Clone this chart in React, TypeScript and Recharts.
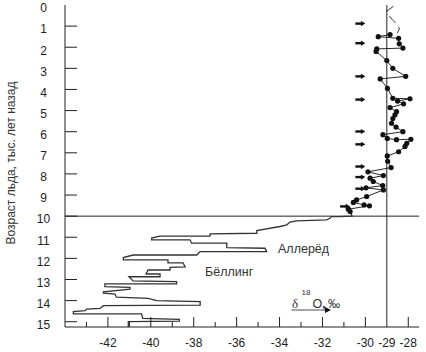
import { ScatterChart, Scatter, XAxis, YAxis, ReferenceLine } from 'recharts';

// age axis (ka BP) and isotope axis ticks
const ageTicks = [0, 1, 2, 3, 4, 5, 6, 7, 8, 9, 10, 11, 12, 13, 14, 15];
const isoTicks = [-43, -42, -41, -40, -39, -38, -37, -36, -35, -34, -33, -32, -31, -30, -29, -28];
const isoLabels = [-42, -40, -38, -36, -34, -32, -30, -29, -28];
const topTicks = [-43, -41, -39, -37, -35, -33, -31, -30, -28];

// Holocene samples (dots)
const holoAge = [1.4, 1.5, 1.58, 1.84, 2.04, 2.08, 2.2, 2.63, 3.0, 3.38, 3.5, 3.95, 4.42, 4.44, 4.55, 4.68, 4.86, 5.05, 5.2, 5.38, 5.6, 5.78, 6.0, 6.14, 6.32, 6.38, 6.36, 6.55, 6.7, 6.95, 7.15, 7.4, 7.7, 7.9, 8.08, 8.2, 8.36, 8.55, 8.66, 8.76, 9.07, 9.23, 9.35, 9.47, 9.51, 9.67, 9.78];
const holoIso = [-28.85, -29.4, -28.45, -28.42, -28.25, -29.47, -29.5, -29.0, -28.72, -28.12, -29.31, -28.97, -28.72, -27.92, -28.5, -28.22, -28.85, -28.55, -28.62, -28.72, -28.78, -28.57, -28.25, -29.18, -28.98, -28.55, -27.88, -28.07, -28.15, -28.45, -28.98, -28.96, -28.8, -29.88, -29.16, -29.78, -29.63, -29.19, -29.97, -29.16, -29.94, -30.41, -30.56, -30.06, -29.81, -30.79, -30.71];

// late glacial stepped profile
const glacAge = [9.78, 10.0, 10.02, 10.02, 10.1, 10.18, 10.22, 10.28, 10.41, 10.49, 10.68, 10.81, 10.84, 10.95, 10.95, 11.04, 11.12, 11.12, 11.28, 11.28, 11.49, 11.52, 11.68, 11.68, 11.84, 11.84, 11.96, 12.07, 12.07, 12.21, 12.21, 12.4, 12.43, 12.55, 12.55, 12.74, 12.74, 12.87, 12.87, 13.07, 13.1, 13.21, 13.21, 13.34, 13.37, 13.46, 13.58, 13.65, 13.69, 13.84, 13.89, 14.0, 14.05, 14.21, 14.24, 14.37, 14.4, 14.48, 14.52, 14.63, 14.63, 14.84, 14.89, 14.97, 15.0, 15.25];
const glacIso = [-30.71, -30.62, -31.18, -31.57, -31.65, -31.8, -33.2, -33.51, -33.66, -33.98, -35.06, -35.06, -37.24, -37.24, -39.57, -39.96, -39.96, -38.17, -38.1, -36.46, -36.46, -34.68, -34.6, -37.7, -37.86, -40.82, -41.28, -41.28, -39.2, -39.2, -38.5, -38.4, -39.1, -39.1, -40.13, -40.22, -39.57, -39.57, -41.02, -40.83, -38.8, -38.8, -42.14, -42.14, -40.97, -40.97, -42.21, -42.21, -41.67, -41.6, -40.12, -39.73, -37.7, -37.7, -42.21, -42.37, -42.99, -43.07, -43.61, -43.61, -40.43, -40.38, -38.67, -38.67, -41.05, -41.05];

// uncertain top of the record (dashed)
const topAge = [0.06, 0.29, 0.53, 0.72, 0.93, 1.13, 1.32];
const topIso = [-28.69, -29.0, -28.88, -28.72, -28.51, -28.41, -28.51];

// arrow markers
const arrowAge = [0.88, 1.81, 3.38, 4.48, 5.99, 6.6, 7.65, 8.15, 8.7, 9.54];
const arrowIso = [-30.0, -30.0, -30.0, -30.0, -30.0, -30.0, -30.0, -30.0, -30.0, -30.71];

const holoData = holoAge.map((a, i) => ({ age: a, iso: holoIso[i] }));
const glacData = glacAge.map((a, i) => ({ age: a, iso: glacIso[i] }));
const topData = topAge.map((a, i) => ({ age: a, iso: topIso[i] }));
const arrowData = arrowAge.map((a, i) => ({ age: a, iso: arrowIso[i] }));

const ink = '#222';
const font = '"Liberation Sans", Arial, sans-serif';

const LeftTick = ({ x, y, payload }: any) => (
  <g>
    {payload.value > 0 && <line x1={x} x2={x + 12} y1={y} y2={y} stroke={ink} />}
    <text x={x - 21.5} y={y + 7.3} textAnchor="middle" fontSize={12} fill={ink} fontFamily={font}>
      {payload.value}
    </text>
  </g>
);

const RightTick = ({ x, y, payload }: any) =>
  payload.value > 0 ? <line x1={x - 10} x2={x} y1={y} y2={y} stroke={ink} /> : <g />;

const BottomTick = ({ x, y, payload }: any) => {
  const v = payload.value;
  const len = v % 2 === 0 ? 10 : 5;
  return (
    <g>
      {v !== -29 && <line x1={x} x2={x} y1={y} y2={y - len} stroke={ink} />}
      {isoLabels.includes(v) && (
        <text x={x} y={y + 20} textAnchor="middle" fontSize={12} fill={ink} fontFamily={font}>
          {v}
        </text>
      )}
    </g>
  );
};

const TopTick = ({ x, y }: any) => <line x1={x} x2={x} y1={y} y2={y + 9} stroke={ink} />;

const Dot = ({ cx, cy }: any) => <circle cx={cx} cy={cy} r={2.6} fill="#111" />;
const NoDot = () => <g />;
const Arrow = ({ cx, cy }: any) => (
  <g>
    <line x1={cx - 10} x2={cx - 3.5} y1={cy} y2={cy} stroke="#111" strokeWidth={2.4} />
    <path d={`M${cx - 4.5},${cy - 2.6} L${cx},${cy} L${cx - 4.5},${cy + 2.6} Z`} fill="#111" />
  </g>
);

export default function App() {
  return (
    <div style={{ position: 'absolute', left: 0, top: 0, width: 426, height: 352, background: '#fff' }}>
      <ScatterChart width={426} height={352} margin={{ top: 5, right: 7, bottom: 0, left: 0 }}>
        <XAxis
          xAxisId="b"
          type="number"
          dataKey="iso"
          domain={[-44, -27.5]}
          ticks={isoTicks}
          interval={0}
          height={25}
          tickSize={0}
          tickMargin={0}
          tickLine={false}
          axisLine={{ stroke: ink }}
          tick={<BottomTick />}
          allowDataOverflow
        />
        <XAxis
          xAxisId="t"
          orientation="top"
          type="number"
          domain={[-44, -27.5]}
          ticks={topTicks}
          interval={0}
          height={0}
          tickSize={0}
          tickMargin={0}
          tickLine={false}
          axisLine={{ stroke: ink }}
          tick={<TopTick />}
          allowDataOverflow
        />
        <YAxis
          yAxisId="l"
          type="number"
          dataKey="age"
          domain={[0, 15.25]}
          reversed
          ticks={ageTicks}
          interval={0}
          width={65}
          tickSize={0}
          tickMargin={0}
          tickLine={false}
          axisLine={{ stroke: ink }}
          tick={<LeftTick />}
          allowDataOverflow
        />
        <YAxis
          yAxisId="r"
          orientation="right"
          type="number"
          domain={[0, 15.25]}
          reversed
          ticks={ageTicks}
          interval={0}
          width={0}
          tickSize={0}
          tickMargin={0}
          tickLine={false}
          axisLine={{ stroke: ink }}
          tick={<RightTick />}
          allowDataOverflow
        />
        <ReferenceLine xAxisId="b" yAxisId="l" y={10} stroke={ink} />
        <ReferenceLine xAxisId="b" yAxisId="l" x={-29} stroke={ink} />
        <Scatter
          xAxisId="b"
          yAxisId="l"
          data={glacData}
          line={{ stroke: '#333', strokeWidth: 1.3 }}
          shape={<NoDot />}
          isAnimationActive={false}
        />
        <Scatter
          xAxisId="b"
          yAxisId="l"
          data={topData}
          line={{ stroke: '#333', strokeWidth: 1, strokeDasharray: '9 5' }}
          shape={<NoDot />}
          isAnimationActive={false}
        />
        <Scatter
          xAxisId="b"
          yAxisId="l"
          data={holoData}
          line={{ stroke: '#111', strokeWidth: 0.9 }}
          shape={<Dot />}
          isAnimationActive={false}
        />
        <Scatter xAxisId="b" yAxisId="l" data={arrowData} shape={<Arrow />} isAnimationActive={false} />
      </ScatterChart>
      <svg
        width={426}
        height={352}
        style={{ position: 'absolute', left: 0, top: 0, pointerEvents: 'none' }}
        fontFamily={font}
        fill="#333"
      >
        <text transform="translate(15,163) rotate(-90)" textAnchor="middle" fontSize={12}>
          Возраст льда, тыс. лет назад
        </text>
        <text x={278} y={253} fontSize={12.5}>Аллерёд</text>
        <text x={205} y={276} fontSize={12.5}>Бёллинг</text>
        <text x={292} y={308} fontSize={13} fontFamily='"Liberation Serif", serif'>δ</text>
        <text x={301.5} y={294.5} fontSize={8}>18</text>
        <text x={312.5} y={308} fontSize={12.5}>O</text>
        <text x={322} y={308} fontSize={13} fontWeight="bold">,</text>
        <text x={328} y={308} fontSize={12}>‰</text>
        <line x1={291.5} x2={326} y1={310} y2={310} stroke="#888" strokeWidth={1.5} />
        <path d="M325,307 L331,310 L325,313 Z" fill="#111" />
      </svg>
    </div>
  );
}
